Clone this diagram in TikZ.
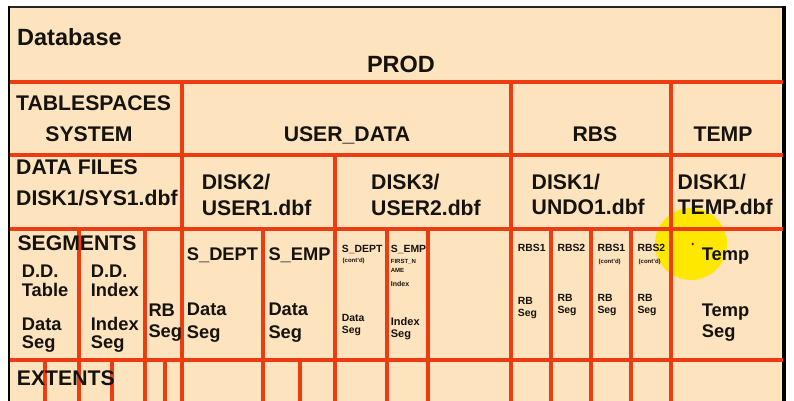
\documentclass[tikz,border=0pt]{standalone}
\usepackage{fontspec}
\setmainfont{Liberation Sans}
\definecolor{beige}{RGB}{253,228,190}
\definecolor{redline}{RGB}{238,60,18}
\definecolor{txt}{RGB}{22,18,14}
\definecolor{hilite}{RGB}{255,232,0}
\tikzset{
  lbl/.style={inner sep=0pt, anchor=base west, text=txt},
  lblc/.style={inner sep=0pt, anchor=base, text=txt},
  fbig/.style={font=\fontsize{23.5}{28}\selectfont\bfseries},
  fmain/.style={font=\fontsize{21.2}{26}\selectfont\bfseries},
  fmid/.style={font=\fontsize{18.3}{22}\selectfont\bfseries},
  fsmall/.style={font=\fontsize{10.4}{12}\selectfont\bfseries},
  ftiny/.style={font=\fontsize{6}{7}\selectfont\bfseries},
  grid/.style={draw=redline, line width=3.2pt},
}
\begin{document}
\begin{tikzpicture}[x=1pt,y=-1pt]
\useasboundingbox (0,0) rectangle (794,400);
\fill[white] (0,0) rectangle (794,400);
\fill[beige] (9,7) rectangle (784,401);
% highlight
\fill[hilite] (691,244) circle (36);
% frame
\draw[black!85, line width=2pt] (9,7) -- (784,7);
\draw[black, line width=2.6pt] (9,6) -- (9,401);
\draw[black, line width=3.5pt] (784,6) -- (784,401);
% horizontal grid lines
\foreach \yy in {82,155,229,360} \draw[grid] (10,\yy) -- (783,\yy);
% vertical grid lines
\foreach \xx in {182,511,671} \draw[grid] (\xx,82) -- (\xx,401);
\draw[grid] (335,155) -- (335,401);
\foreach \xx in {79,145,263,387,428,551,591,631} \draw[grid] (\xx,229) -- (\xx,401);
\foreach \xx in {45,112,165,300} \draw[grid] (\xx,360) -- (\xx,401);
\fill[red!80!black] (692.7,244) circle (1.4);
% header
\node[lbl, fbig] (db) at (17,45) {Database};
\node[lblc, fbig] (prod) at (401,72) {PROD};
% tablespaces
\node[lbl, fmain] (ts) at (16,110) {TABLESPACES};
\node[lblc, fmain] (sys) at (89,141.7) {SYSTEM};
\node[lblc, fmain] (ud) at (347,141.7) {USER\_DATA};
\node[lblc, fmain] (rbs) at (595,141.7) {RBS};
\node[lblc, fmain] (temp) at (723,141.7) {TEMP};
% data files
\node[lbl, fmain] (df) at (16,174) {DATA FILES};
\node[lbl, fmain] (df1) at (16,205) {DISK1/SYS1.dbf};
\node[lbl, fmain] (df2a) at (201.7,189) {DISK2/};
\node[lbl, fmain] (df2b) at (201.7,215) {USER1.dbf};
\node[lbl, fmain] (df3a) at (371,189) {DISK3/};
\node[lbl, fmain] (df3b) at (371,215) {USER2.dbf};
\node[lbl, fmain] (df4a) at (531.5,189) {DISK1/};
\node[lbl, fmain] (df4b) at (531.5,214.5) {UNDO1.dbf};
\node[lbl, fmain] (df5a) at (677.5,189) {DISK1/};
\node[lbl, fmain] (df5b) at (677.5,214.5) {TEMP.dbf};
% segments
\node[lbl, fmain] (seg) at (17.3,250) {SEGMENTS};
\node[lbl, fmid] (s1a) at (21.7,277.3) {D.D.};
\node[lbl, fmid] (s1b) at (21.7,296.7) {Table};
\node[lbl, fmid] (s1c) at (21.7,330) {Data};
\node[lbl, fmid] (s1d) at (21.7,348.5) {Seg};
\node[lbl, fmid] (s2a) at (90.7,277.3) {D.D.};
\node[lbl, fmid] (s2b) at (90.7,296.7) {Index};
\node[lbl, fmid] (s2c) at (90.7,330) {Index};
\node[lbl, fmid] (s2d) at (90.7,348.5) {Seg};
\node[lbl, fmid] (s3a) at (148.3,316.7) {RB};
\node[lbl, fmid] (s3b) at (148.3,337.3) {Seg};
\node[lbl, fmid] (s4a) at (186.7,260) {S\_DEPT};
\node[lbl, fmid] (s4b) at (186.7,315) {Data};
\node[lbl, fmid] (s4c) at (186.7,338.3) {Seg};
\node[lbl, fmid] (s5a) at (268.3,260) {S\_EMP};
\node[lbl, fmid] (s5b) at (268.3,315) {Data};
\node[lbl, fmid] (s5c) at (268.3,338.3) {Seg};
\node[lbl, fsmall] (s6a) at (341.7,252.3) {S\_DEPT};
\node[lbl, ftiny] (s6b) at (342.5,262.5) {(cont'd)};
\node[lbl, fsmall] (s6c) at (341.7,321) {Data};
\node[lbl, fsmall] (s6d) at (341.7,333) {Seg};
\node[lbl, fsmall] (s7a) at (390.7,252.3) {S\_EMP};
\node[lbl, ftiny] (s7b) at (390.7,263.3) {FIRST\_N};
\node[lbl, ftiny] (s7c) at (390.7,272.3) {AME};
\node[lbl, font=\fontsize{7}{8}\selectfont\bfseries] (s7d) at (390.7,286.5) {Index};
\node[lbl, font=\fontsize{11}{13}\selectfont\bfseries] (s7e) at (390.7,325.5) {Index};
\node[lbl, font=\fontsize{11}{13}\selectfont\bfseries] (s7f) at (390.7,337.5) {Seg};
\node[lbl, fsmall] (r1a) at (517.7,251.7) {RBS1};
\node[lbl, fsmall] (r1b) at (517.7,304) {RB};
\node[lbl, fsmall] (r1c) at (517.7,316.7) {Seg};
\node[lbl, fsmall] (r2a) at (557.3,251.7) {RBS2};
\node[lbl, fsmall] (r2b) at (557.3,301) {RB};
\node[lbl, fsmall] (r2c) at (557.3,313.3) {Seg};
\node[lbl, fsmall] (r3a) at (597.3,251.7) {RBS1};
\node[lbl, ftiny] (r3b) at (598.5,263) {(cont'd)};
\node[lbl, fsmall] (r3c) at (597.3,301) {RB};
\node[lbl, fsmall] (r3d) at (597.3,313.3) {Seg};
\node[lbl, fsmall] (r4a) at (637.3,251.7) {RBS2};
\node[lbl, ftiny] (r4b) at (638.5,263) {(cont'd)};
\node[lbl, fsmall] (r4c) at (637.3,301) {RB};
\node[lbl, fsmall] (r4d) at (637.3,313.3) {Seg};
\node[lbl, fmid] (t1) at (701.7,260) {Temp};
\node[lbl, fmid] (t2) at (701.7,316) {Temp};
\node[lbl, fmid] (t3) at (701.7,337.5) {Seg};
% extents
\node[lbl, fmain] (ext) at (16.7,385) {EXTENTS};
\end{tikzpicture}
\end{document}
